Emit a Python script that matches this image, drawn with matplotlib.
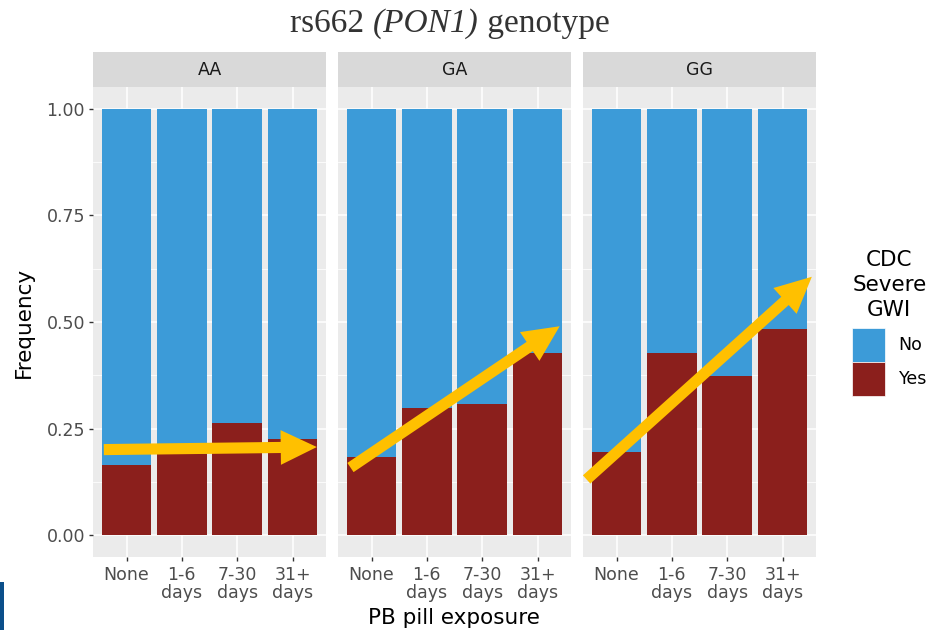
import numpy as np
import matplotlib
matplotlib.use('Agg')
import matplotlib.pyplot as plt
from matplotlib.patches import Rectangle, FancyArrowPatch, Patch

# Data (share of "Yes" per exposure group)
genotypes = ['AA', 'GA', 'GG']
exposure = ['None', '1-6\ndays', '7-30\ndays', '31+\ndays']
yes_aa = [0.164, 0.190, 0.263, 0.226]
yes_ga = [0.184, 0.299, 0.309, 0.428]
yes_gg = [0.195, 0.427, 0.373, 0.484]
yes_by_geno = [yes_aa, yes_ga, yes_gg]

# trend arrows drawn over each panel (start, end) in data units
arrows = [((0.59, 0.201), (4.44, 0.207)),
          ((0.62, 0.159), (4.40, 0.490)),
          ((0.46, 0.131), (4.53, 0.606))]

col_no = '#3C9BD8'
col_yes = '#8B1F1C'
col_arrow = '#FFC000'
panel_bg = '#EBEBEB'
strip_bg = '#D9D9D9'
txt_gray = '#4D4D4D'

W, H = 934, 630
fig = plt.figure(figsize=(W / 100, H / 100), dpi=100)

left_px = [93.3, 338.3, 583.3]
pw, top_px, bot_px = 232.4, 87.3, 556.7
strip_h = 35.0

x = np.arange(1, len(exposure) + 1)
axes = []
for i, g in enumerate(genotypes):
    ax = fig.add_axes([left_px[i] / W, 1 - bot_px / H, pw / W, (bot_px - top_px) / H])
    axes.append(ax)
    yes = np.array(yes_by_geno[i])
    no = 1 - yes
    ax.set_facecolor(panel_bg)
    ax.bar(x, yes, width=0.9, color=col_yes, zorder=3)
    ax.bar(x, no, width=0.9, bottom=yes, color=col_no, zorder=3)
    ax.set_xlim(0.4, 4.6)
    ax.set_ylim(-0.05, 1.05)
    ax.set_yticks([0, 0.25, 0.5, 0.75, 1.0])
    ax.set_yticks([0.125, 0.375, 0.625, 0.875], minor=True)
    ax.set_xticks(x)
    ax.set_xticklabels(exposure, fontsize=12.5, color=txt_gray, linespacing=1.0)
    ax.grid(which='major', color='white', lw=1.1, zorder=0)
    ax.grid(which='minor', axis='y', color='white', lw=0.55, zorder=0)
    ax.tick_params(which='major', length=3, width=1, color='#333333', pad=3)
    ax.tick_params(axis='x', which='major', pad=4)
    ax.tick_params(which='minor', length=0)
    if i == 0:
        ax.set_yticklabels(['0.00', '0.25', '0.50', '0.75', '1.00'], fontsize=12.5, color=txt_gray)
    else:
        ax.tick_params(axis='y', which='major', length=0, labelleft=False)
    for s in ax.spines.values():
        s.set_visible(False)
    # facet strip
    sh = strip_h / (bot_px - top_px)
    ax.add_patch(Rectangle((0, 1), 1, sh, transform=ax.transAxes, facecolor=strip_bg,
                           edgecolor='none', clip_on=False))
    ax.text(0.5, 1 + sh / 2, g, transform=ax.transAxes, ha='center', va='center',
            fontsize=12.5, color='#1A1A1A')
    # arrow
    (x0, y0), (x1, y1) = arrows[i]
    ax.add_patch(FancyArrowPatch((x0, y0), (x1, y1),
                                 arrowstyle='simple,head_length=26,head_width=25,tail_width=8',
                                 mutation_scale=1, shrinkA=0, shrinkB=0, color=col_arrow,
                                 lw=0, clip_on=False, zorder=6))

fig.text(24 / W, 1 - 322 / H, 'Frequency', rotation=90, ha='center', va='center',
         fontsize=15.5, color='black')
fig.text(454 / W, 1 - 624 / H, 'PB pill exposure', ha='center', va='baseline',
         fontsize=15.5, color='black')

# legend
handles = [Patch(facecolor=col_no, edgecolor='white', lw=0.5, label='No'),
           Patch(facecolor=col_yes, edgecolor='white', lw=0.5, label='Yes')]
leg = fig.legend(handles=handles, title='CDC\nSevere\nGWI', loc='upper left',
                 bbox_to_anchor=(851.7 / W, 1 - 250 / H), frameon=False,
                 fontsize=12.5, title_fontsize=15.5, handlelength=1.9, handleheight=2.64,
                 labelspacing=0.0, handletextpad=0.8, borderpad=0, borderaxespad=0)
leg.get_title().set_multialignment('center')
leg.get_title().set_linespacing(1.3)
leg._legend_box.sep = 6  # gap between legend title and keys

# title built from pieces so PON1 can be italic
renderer = fig.canvas.get_renderer()
pieces = [('rs662 ', 'normal'), ('(PON1)', 'italic'), (' genotype', 'normal')]
ty = 1 - 32 / H
texts = []
for s, st in pieces:
    t = fig.text(0, ty, s, fontsize=24, family='Liberation Serif', style=st,
                 color='#333333', va='baseline', ha='left')
    texts.append(t)
widths = [t.get_window_extent(renderer).width for t in texts]
xpos = 450 - sum(widths) / 2
for t, w in zip(texts, widths):
    t.set_x(xpos / W)
    xpos += w

# slide decoration at bottom-left
fig.patches.append(Rectangle((0, 0), 4 / W, 48 / H, transform=fig.transFigure,
                             facecolor='#0B4F8A', edgecolor='none'))

fig.savefig('out.png', dpi=100)
